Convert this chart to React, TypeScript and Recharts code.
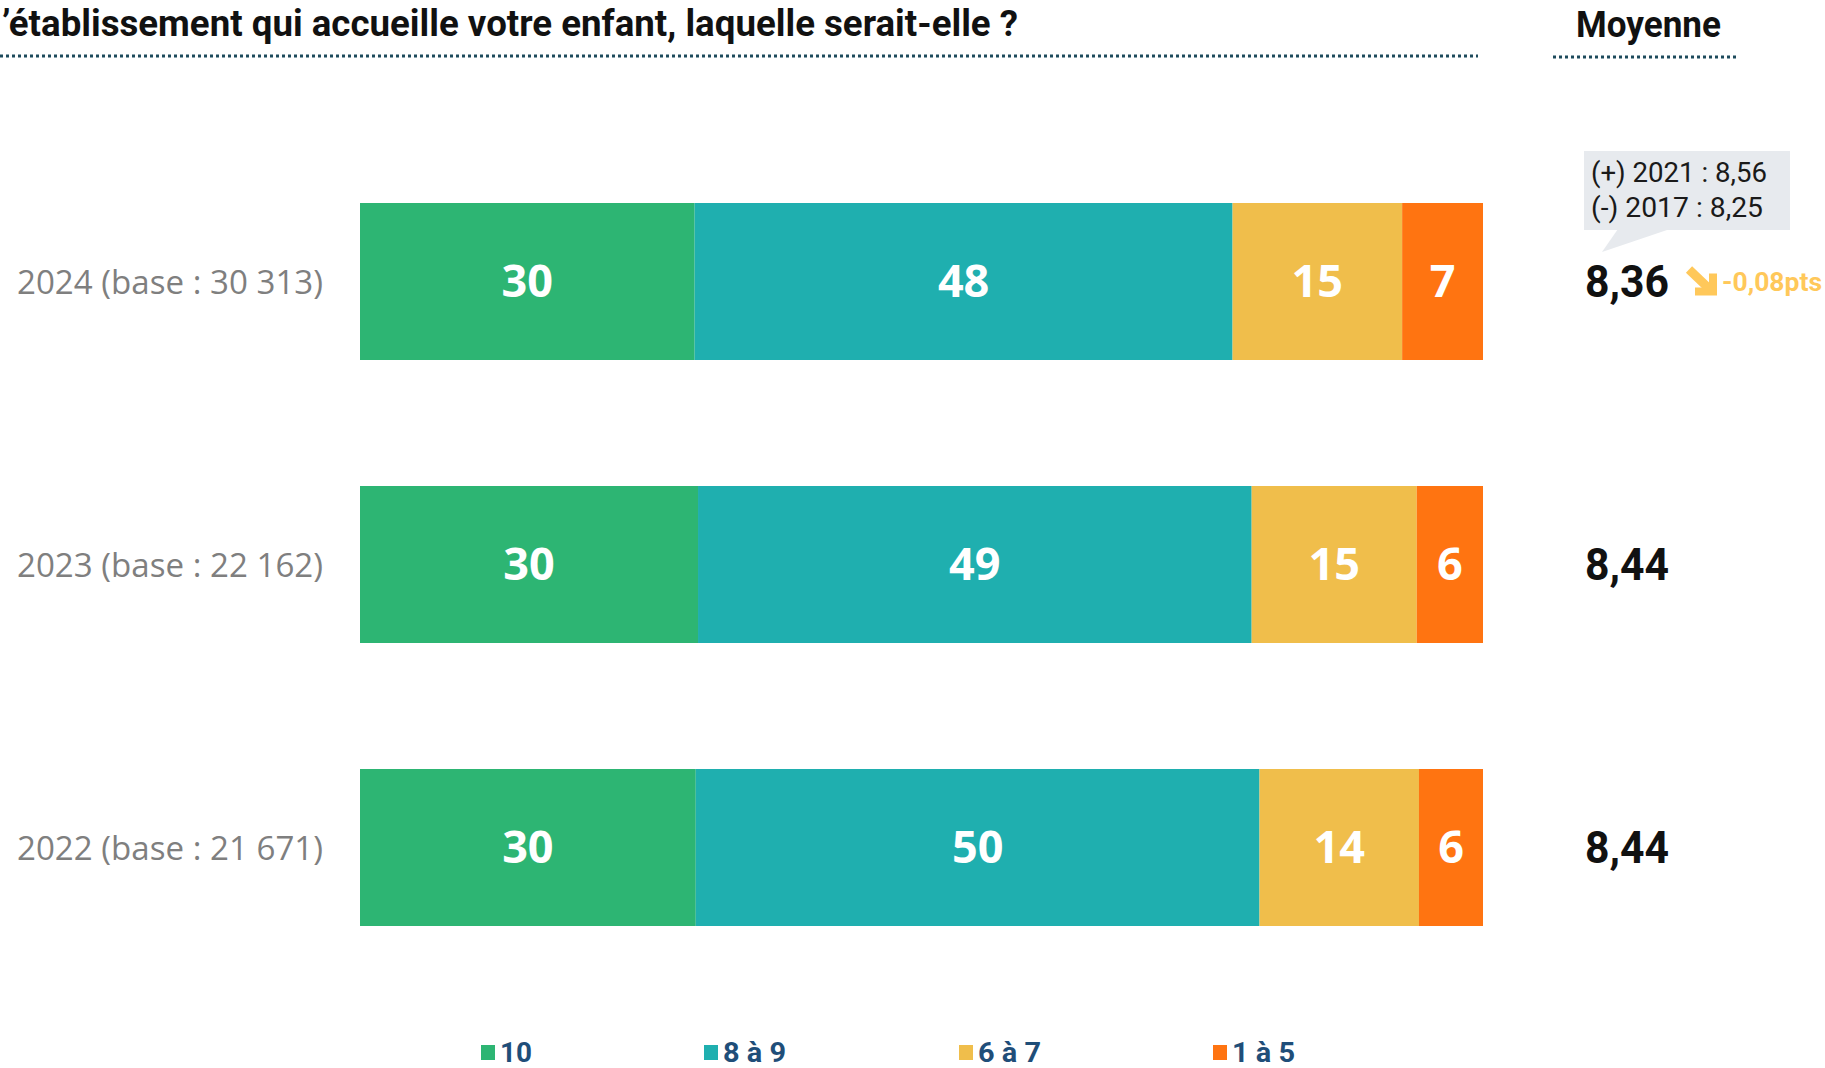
import * as React from 'react';
import { BarChart, Bar, XAxis, YAxis, LabelList } from 'recharts';

// Years (with sample size) shown on the left
const years = ['2024 (base : 30 313)', '2023 (base : 22 162)', '2022 (base : 21 671)'];

// Share of answers per score bucket, in %
const note10 = [29.8, 30.1, 29.9];
const note8a9 = [47.9, 49.3, 50.2];
const note6a7 = [15.1, 14.7, 14.2];
const note1a5 = [7.2, 5.9, 5.7];

// Average score per year
const moyennes = ['8,36', '8,44', '8,44'];
const evolutions = ['-0,08pts', '', ''];
const historique = ['(+) 2021 : 8,56', '(-) 2017 : 8,25'];

const seriesKeys = ['n10', 'n8', 'n6', 'n1'];
const seriesNames = ['10', '8 à 9', '6 à 7', '1 à 5'];
const seriesColors = ['#2db573', '#1fafaf', '#f0be4b', '#ff7411'];

// the picture is cropped: only the end of the question is visible
const titre = '’établissement qui accueille votre enfant, laquelle serait-elle ?';

const chartData = years.map((name, i) => ({
  name,
  n10: note10[i],
  n8: note8a9[i],
  n6: note6a7[i],
  n1: note1a5[i],
  moyenne: moyennes[i],
  evolution: evolutions[i],
}));

const W = 1825;
const H = 1068;

const YearTick = (props: any) => {
  const { x, y, payload } = props;
  return (
    <text
      x={x}
      y={y}
      textAnchor="end"
      dominantBaseline="central"
      fontFamily="'Open Sans', sans-serif"
      fontSize={32}
      fill="#7f7f7f"
      textLength={306}
      lengthAdjust="spacingAndGlyphs"
    >
      {payload.value}
    </text>
  );
};

const MoyenneLabel = (props: any) => {
  const { x, y, width, height, index } = props;
  const row = chartData[index];
  const cx = x + width + 102;
  const cy = y + height / 2;
  return (
    <g>
      <text
        x={cx}
        y={cy}
        dominantBaseline="central"
        fontFamily="Roboto, sans-serif"
        fontWeight={700}
        fontSize={44}
        fill="#111"
        textLength={84}
        lengthAdjust="spacingAndGlyphs"
      >
        {row.moyenne}
      </text>
      {row.evolution && (
        <g>
          <path d={`M${cx + 104},${cy - 12} L${cx + 125},${cy + 8}`} stroke="#ffc85a" strokeWidth={9} />
          <path
            d={`M${cx + 110},${cy + 10} L${cx + 128},${cy + 10} L${cx + 128},${cy - 8}`}
            stroke="#ffc85a"
            strokeWidth={8}
            fill="none"
            strokeLinejoin="miter"
          />
          <text
            x={cx + 137}
            y={cy}
            dominantBaseline="central"
            fontFamily="Roboto, sans-serif"
            fontWeight={700}
            fontSize={26}
            fill="#ffc85a"
            textLength={100}
            lengthAdjust="spacingAndGlyphs"
          >
            {row.evolution}
          </text>
        </g>
      )}
    </g>
  );
};

const legendX = [481, 704, 959, 1213];

export default function App() {
  return (
    <div style={{ position: 'fixed', left: 0, top: 0, width: W, height: H, overflow: 'hidden', background: '#fff' }}>
      <BarChart
        width={W}
        height={H}
        data={chartData}
        layout="vertical"
        margin={{ top: 140, right: 342, bottom: 79, left: 0 }}
        barSize={157}
      >
        <XAxis type="number" domain={[0, 100]} hide />
        <YAxis
          type="category"
          dataKey="name"
          width={360}
          axisLine={false}
          tickLine={false}
          tickSize={0}
          tickMargin={37}
          tick={<YearTick />}
        />
        {seriesKeys.map((key, i) => (
          <Bar key={key} dataKey={key} stackId="a" fill={seriesColors[i]} isAnimationActive={false}>
            <LabelList
              dataKey={key}
              position="center"
              formatter={(v: any) => Math.round(Number(v))}
              fill="#fff"
              fontSize={45}
              fontWeight={700}
              fontFamily="'Open Sans', sans-serif"
            />
            {i === seriesKeys.length - 1 && <LabelList dataKey="moyenne" content={<MoyenneLabel />} />}
          </Bar>
        ))}
      </BarChart>

      <svg width={W} height={H} style={{ position: 'absolute', left: 0, top: 0, pointerEvents: 'none' }}>
        {/* title */}
        <text
          x={2}
          y={36}
          fontFamily="Roboto, sans-serif"
          fontWeight={700}
          fontSize={37}
          fill="#111"
          textLength={1016}
          lengthAdjust="spacingAndGlyphs"
        >
          {titre}
        </text>
        <line x1={0} y1={56} x2={1478} y2={56} stroke="#1d4a5c" strokeWidth={3} strokeDasharray="3 3" />

        {/* Moyenne header */}
        <text
          x={1576}
          y={37}
          fontFamily="Roboto, sans-serif"
          fontWeight={700}
          fontSize={37}
          fill="#111"
          textLength={145}
          lengthAdjust="spacingAndGlyphs"
        >
          Moyenne
        </text>
        <line x1={1553} y1={57} x2={1738} y2={57} stroke="#1d4a5c" strokeWidth={3} strokeDasharray="3 3" />

        {/* callout with history */}
        <rect x={1584} y={151} width={206} height={79} fill="#e7eaee" />
        <polygon points="1618,229 1670,229 1602,252" fill="#e7eaee" />
        {historique.map((t, i) => (
          <text
            key={t}
            x={1591}
            y={182 + i * 35}
            fontFamily="Roboto, sans-serif"
            fontSize={28}
            fill="#1a1a1a"
            textLength={i === 0 ? 176 : 172}
            lengthAdjust="spacingAndGlyphs"
          >
            {t}
          </text>
        ))}

        {/* legend */}
        {seriesNames.map((n, i) => (
          <g key={n}>
            <rect x={legendX[i]} y={1045} width={14} height={15} fill={seriesColors[i]} />
            <text
              x={legendX[i] + 19}
              y={1062}
              fontFamily="Roboto, sans-serif"
              fontWeight={700}
              fontSize={27}
              fill="#1f4e79"
              textLength={i === 0 ? 32 : 63}
              lengthAdjust="spacingAndGlyphs"
            >
              {n}
            </text>
          </g>
        ))}
      </svg>
    </div>
  );
}
